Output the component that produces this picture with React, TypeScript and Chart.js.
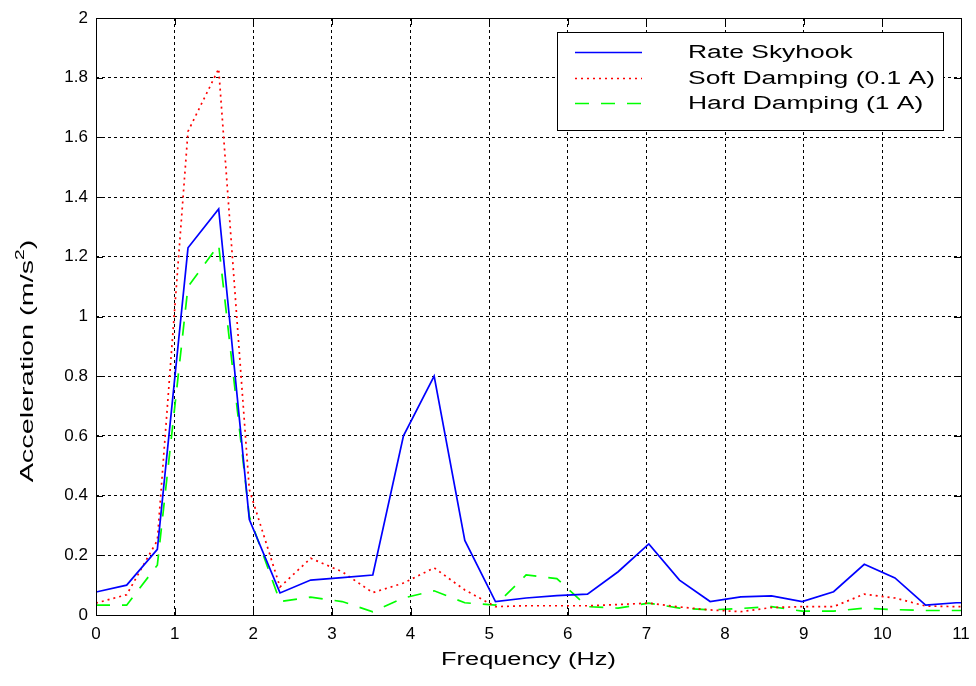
import { useEffect, useRef } from "react";
import { Chart, registerables } from "chart.js";

Chart.register(...registerables);

// Frequency samples (Hz)
const frequencies = [
  0, 0.39, 0.78, 1.17, 1.56, 1.95, 2.34, 2.73, 3.13, 3.52, 3.91, 4.3, 4.69, 5.08, 5.47,
  5.86, 6.25, 6.64, 7.03, 7.42, 7.81, 8.2, 8.59, 8.98, 9.38, 9.77, 10.16, 10.55, 10.94, 11.33,
];

const rateSkyhook = [
  0.077, 0.1, 0.22, 1.23, 1.36, 0.32, 0.074, 0.117, 0.125, 0.134, 0.6, 0.8, 0.25, 0.045, 0.057,
  0.065, 0.07, 0.145, 0.238, 0.117, 0.045, 0.061, 0.064, 0.045, 0.078, 0.17, 0.124, 0.033, 0.041, 0.041,
];

const softDamping = [
  0.04, 0.068, 0.25, 1.62, 1.83, 0.42, 0.094, 0.19, 0.145, 0.075, 0.107, 0.158, 0.084, 0.028, 0.031,
  0.031, 0.031, 0.035, 0.04, 0.027, 0.017, 0.011, 0.025, 0.028, 0.028, 0.07, 0.057, 0.03, 0.028, 0.028,
];

const hardDamping = [
  0.033, 0.033, 0.167, 1.1, 1.24, 0.33, 0.045, 0.06, 0.045, 0.011, 0.057, 0.081, 0.041, 0.033, 0.134,
  0.122, 0.028, 0.023, 0.04, 0.023, 0.017, 0.022, 0.028, 0.013, 0.013, 0.023, 0.018, 0.015, 0.015, 0.015,
];

const seriesLabels = ["Rate Skyhook", "Soft Damping (0.1 A)", "Hard Damping (1 A)"];
const xTitle = "Frequency (Hz)";
const yTitleMain = "Acceleration (m/s";
const yTitleSup = "2";
const yTitleEnd = ")";
const xTickValues = [0, 1, 2, 3, 4, 5, 6, 7, 8, 9, 10, 11];
const yTickValues = [0, 0.2, 0.4, 0.6, 0.8, 1, 1.2, 1.4, 1.6, 1.8, 2];

const FONT = "Arial, 'Liberation Sans', Helvetica, sans-serif";

const toPoints = (ys: number[]) => frequencies.map((x, i) => ({ x, y: ys[i] }));

const frameAndLegend = {
  id: "frameAndLegend",
  afterDatasetsDraw(chart: any) {
    const { ctx, chartArea } = chart;
    const { left, right, top, bottom } = chartArea;
    const xs = chart.scales.x;
    const ys = chart.scales.y;
    ctx.save();
    ctx.strokeStyle = "#000";
    ctx.lineWidth = 1;
    ctx.setLineDash([]);
    ctx.strokeRect(Math.round(left) + 0.5, Math.round(top) + 0.5, Math.round(right - left), Math.round(bottom - top));
    const tl = 7;
    ctx.beginPath();
    xTickValues.forEach((v) => {
      const px = Math.round(xs.getPixelForValue(v)) + 0.5;
      ctx.moveTo(px, bottom);
      ctx.lineTo(px, bottom - tl);
      ctx.moveTo(px, top);
      ctx.lineTo(px, top + tl);
    });
    yTickValues.forEach((v) => {
      const py = Math.round(ys.getPixelForValue(v)) + 0.5;
      ctx.moveTo(left, py);
      ctx.lineTo(left + tl, py);
      ctx.moveTo(right, py);
      ctx.lineTo(right - tl, py);
    });
    ctx.stroke();
    ctx.restore();
  },
  afterDraw(chart: any) {
    const { ctx, chartArea } = chart;
    ctx.save();
    // legend
    const bx = 557.5, by = 32.5, bw = 386, bh = 98;
    ctx.fillStyle = "#fff";
    ctx.fillRect(bx, by, bw, bh);
    ctx.strokeStyle = "#000";
    ctx.lineWidth = 1;
    ctx.setLineDash([]);
    ctx.strokeRect(bx, by, bw, bh);
    const rows = [52, 78, 103];
    chart.data.datasets.forEach((ds: any, i: number) => {
      const y = rows[i] + 0.5;
      ctx.beginPath();
      ctx.strokeStyle = ds.borderColor;
      ctx.lineWidth = ds.borderWidth;
      ctx.setLineDash(ds.borderDash || []);
      ctx.moveTo(575, y);
      ctx.lineTo(642, y);
      ctx.stroke();
      ctx.setLineDash([]);
      ctx.save();
      ctx.fillStyle = "#000";
      ctx.font = `18px ${FONT}`;
      ctx.textBaseline = "middle";
      ctx.textAlign = "left";
      ctx.translate(688, rows[i] + 1);
      ctx.scale(1.47, 1);
      ctx.fillText(ds.label, 0, 0);
      ctx.restore();
    });
    // x title
    ctx.save();
    ctx.fillStyle = "#000";
    ctx.font = `18px ${FONT}`;
    ctx.textBaseline = "middle";
    ctx.textAlign = "center";
    ctx.translate((chartArea.left + chartArea.right) / 2, 660);
    ctx.scale(1.41, 1);
    ctx.fillText(xTitle, 0, 0);
    ctx.restore();
    // y title (rotated)
    ctx.save();
    ctx.fillStyle = "#000";
    ctx.textBaseline = "middle";
    ctx.textAlign = "left";
    ctx.font = `18px ${FONT}`;
    const sx = 1.6;
    const wMain = ctx.measureText(yTitleMain).width;
    ctx.font = `12px ${FONT}`;
    const wSup = ctx.measureText(yTitleSup).width;
    ctx.font = `18px ${FONT}`;
    const wEnd = ctx.measureText(yTitleEnd).width;
    const total = (wMain + wSup + wEnd) * sx;
    ctx.translate(28, 361);
    ctx.rotate(-Math.PI / 2);
    ctx.scale(sx, 1);
    let x0 = -total / 2 / sx;
    ctx.fillText(yTitleMain, x0, 0);
    x0 += wMain;
    ctx.font = `12px ${FONT}`;
    ctx.fillText(yTitleSup, x0, -7);
    x0 += wSup;
    ctx.font = `18px ${FONT}`;
    ctx.fillText(yTitleEnd, x0, 0);
    ctx.restore();
    ctx.restore();
  },
};

export default function App() {
  const ref = useRef<HTMLCanvasElement | null>(null);

  useEffect(() => {
    if (!ref.current) return;
    const chart = new Chart(ref.current, {
      type: "line",
      data: {
        datasets: [
          {
            label: seriesLabels[0],
            data: toPoints(rateSkyhook),
            borderColor: "#0000ff",
            borderWidth: 1.7,
            pointRadius: 0,
            tension: 0,
            clip: 0,
          },
          {
            label: seriesLabels[1],
            data: toPoints(softDamping),
            borderColor: "#ff0000",
            borderWidth: 1.7,
            borderDash: [2, 4],
            pointRadius: 0,
            tension: 0,
            clip: 0,
          },
          {
            label: seriesLabels[2],
            data: toPoints(hardDamping),
            borderColor: "#00ff00",
            borderWidth: 1.7,
            borderDash: [14, 12],
            pointRadius: 0,
            tension: 0,
            clip: 0,
          },
        ],
      } as any,
      options: {
        animation: false,
        responsive: false,
        maintainAspectRatio: false,
        layout: { padding: { left: 0, top: 18, right: 15, bottom: 0 } },
        plugins: {
          legend: { display: false },
          tooltip: { enabled: false },
        },
        scales: {
          x: {
            type: "linear",
            min: 0,
            max: 11,
            afterFit: (s: any) => {
              s.height = 71;
              s.paddingLeft = 0;
              s.paddingRight = 0;
            },
            afterBuildTicks: (s: any) => {
              s.ticks = xTickValues.map((v) => ({ value: v }));
            },
            ticks: {
              color: "#000",
              font: { family: FONT, size: 17 },
              padding: 9,
              maxRotation: 0,
              autoSkip: false,
            },
            grid: { color: "#000", lineWidth: 1, drawTicks: false },
            border: { display: false, dash: [3, 3] },
            title: { display: false },
          },
          y: {
            type: "linear",
            min: 0,
            max: 2,
            afterFit: (s: any) => {
              s.width = 96;
              s.paddingTop = 0;
              s.paddingBottom = 0;
            },
            afterBuildTicks: (s: any) => {
              s.ticks = yTickValues.map((v) => ({ value: v }));
            },
            ticks: {
              color: "#000",
              font: { family: FONT, size: 17 },
              padding: 8,
              autoSkip: false,
              callback: (v: any) => String(Number(Number(v).toFixed(1))),
            },
            grid: { color: "#000", lineWidth: 1, drawTicks: false },
            border: { display: false, dash: [3, 3] },
            title: { display: false },
          },
        },
      } as any,
      plugins: [frameAndLegend],
    });
    return () => chart.destroy();
  }, []);

  return (
    <div style={{ position: "fixed", left: 0, top: 0, width: 976, height: 686, background: "#fff" }}>
      <canvas
        ref={ref}
        width={976}
        height={686}
        role="img"
        aria-label={`${xTitle} vs ${yTitleMain}${yTitleSup}${yTitleEnd}: ${seriesLabels.join(", ")}`}
        style={{ display: "block", width: 976, height: 686 }}
      />
    </div>
  );
}
